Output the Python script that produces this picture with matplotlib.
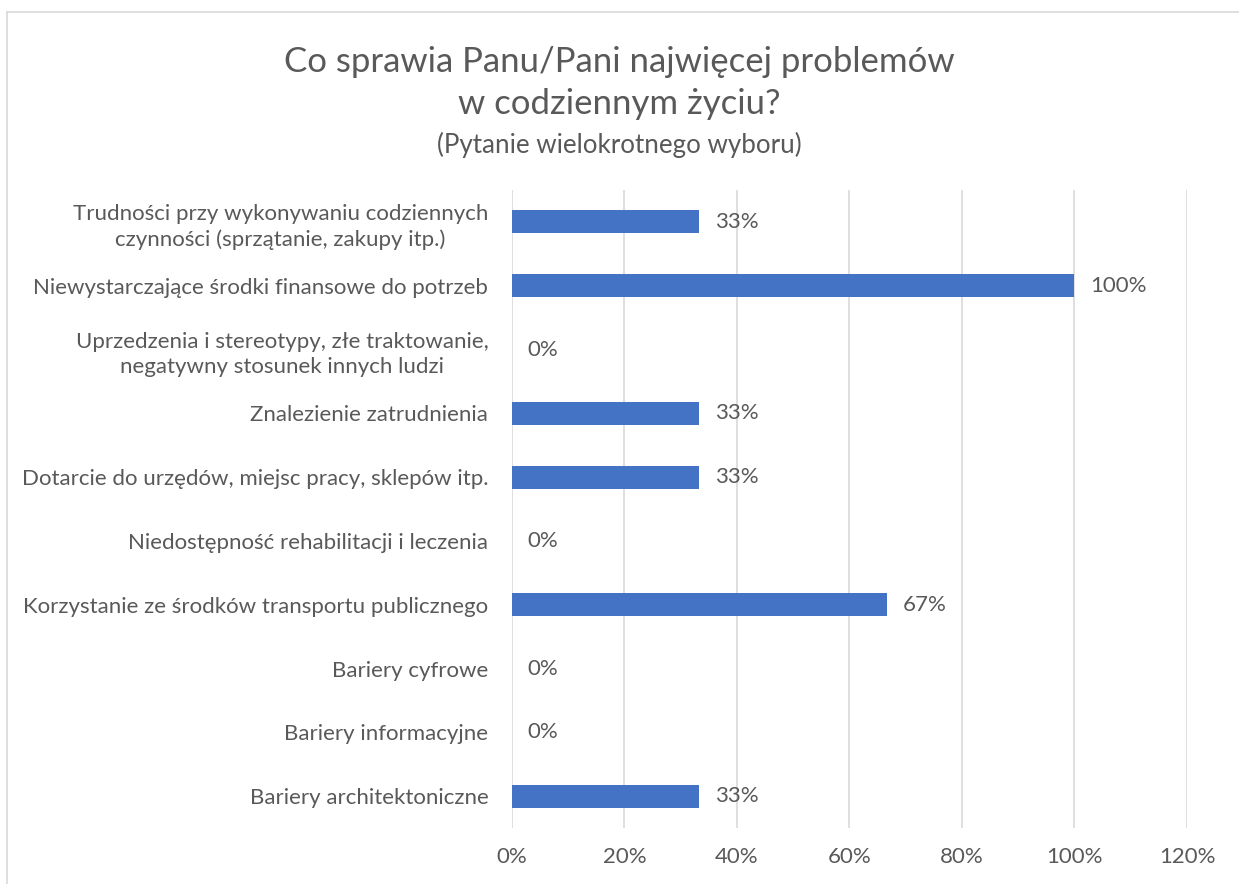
import matplotlib.pyplot as plt
from matplotlib.lines import Line2D

categories = [
    "Trudności przy wykonywaniu codziennych\nczynności (sprzątanie, zakupy itp.)",
    "Niewystarczające środki finansowe do potrzeb",
    "Uprzedzenia i stereotypy, złe traktowanie,\nnegatywny stosunek innych ludzi",
    "Znalezienie zatrudnienia",
    "Dotarcie do urzędów, miejsc pracy, sklepów itp.",
    "Niedostępność rehabilitacji i leczenia",
    "Korzystanie ze środków transportu publicznego",
    "Bariery cyfrowe",
    "Bariery informacyjne",
    "Bariery architektoniczne",
]
values = [33.3, 100, 0, 33.3, 33.3, 0, 66.7, 0, 0, 33.3]
xticks = [0, 20, 40, 60, 80, 100, 120]

plt.rcParams['font.family'] = ['Lato', 'DejaVu Sans']
text_color = "#595959"
fs = 16

fig = plt.figure(figsize=(12.39, 8.84), dpi=100)
ax = fig.add_axes([0.4132, 0.0633, 0.5448, 0.7217])

y = list(range(len(categories)))
ax.barh(y, values, height=0.36, color="#4472C4", zorder=3)
for yi, v in zip(y, values):
    ax.annotate(f"{round(v)}%", (v, yi), xytext=(11, 0), textcoords="offset points",
                va="center", ha="left", fontsize=fs, color=text_color)

ax.set_ylim(len(categories) - 0.5, -0.5)
ax.set_xlim(0, 120)
ax.set_yticks(y)
ax.set_yticklabels(categories, fontsize=fs, color=text_color, ha="right",
                   multialignment="center", linespacing=1.35)
ax.set_xticks(xticks)
ax.set_xticklabels([f"{t}%" for t in xticks], fontsize=fs, color=text_color)
ax.tick_params(axis="both", length=0)
ax.tick_params(axis="y", pad=17)
ax.tick_params(axis="x", pad=14)
ax.grid(axis="x", color="#D9D9D9", linewidth=1.2, zorder=0)
for s in ax.spines.values():
    s.set_visible(False)

fig.text(0.5, 0.930, "Co sprawia Panu/Pani najwięcej problemów", ha="center", va="center",
         fontsize=25, color=text_color)
fig.text(0.5, 0.882, "w codziennym życiu?", ha="center", va="center",
         fontsize=25, color=text_color)
fig.text(0.5, 0.836, "(Pytanie wielokrotnego wyboru)", ha="center", va="center",
         fontsize=18.7, color=text_color)

# chart area border (top and left visible)
fig.add_artist(Line2D([7 / 1239, 1], [1 - 12 / 884, 1 - 12 / 884], transform=fig.transFigure,
                      color="#D9D9D9", linewidth=1.2))
fig.add_artist(Line2D([7 / 1239, 7 / 1239], [0, 1 - 12 / 884], transform=fig.transFigure,
                      color="#D9D9D9", linewidth=1.2))

fig.savefig("out.png", dpi=100)
